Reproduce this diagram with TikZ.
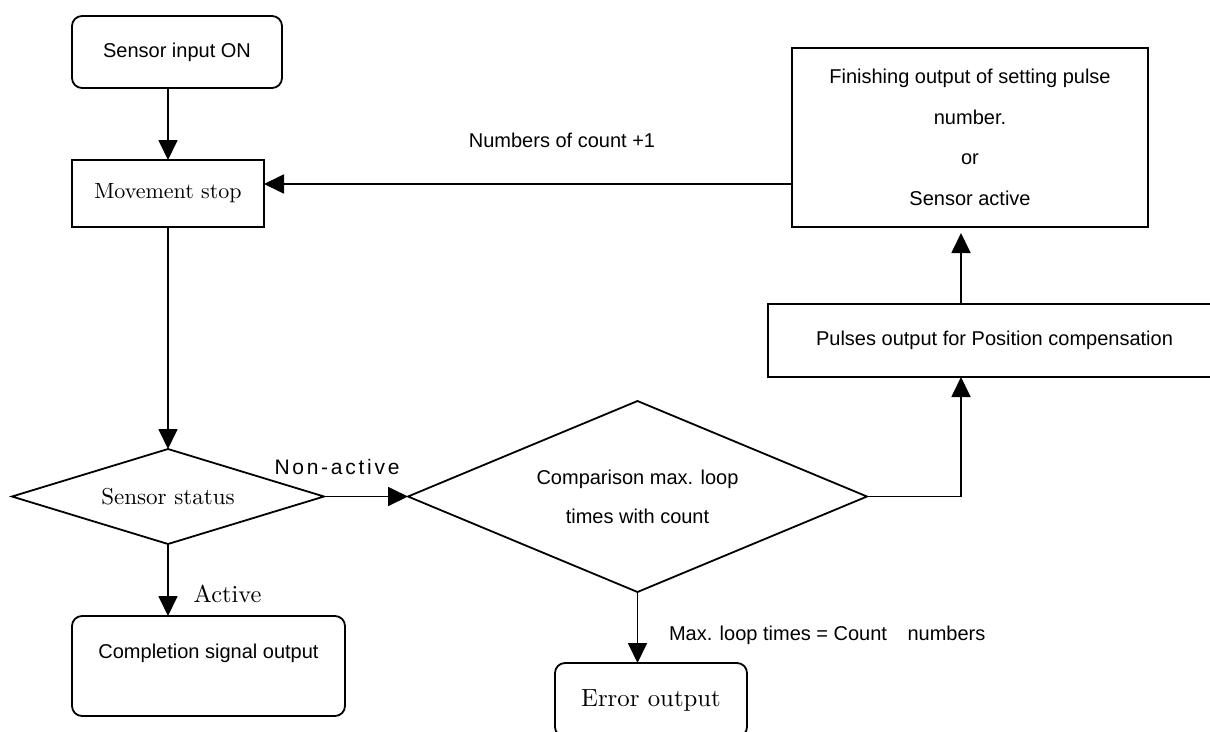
\documentclass[tikz,border=0pt]{standalone}
\usepackage{fontspec}
\newfontfamily\sansf{Liberation Sans}
\newfontfamily\serifx{lmroman10-regular}[Extension=.otf]
\usetikzlibrary{shapes.geometric,arrows.meta}

\begin{document}
\begin{tikzpicture}[x=1pt,y=-1pt,
  line width=1.8pt,
  arr/.style={-{Triangle[length=20pt,width=19pt]}},
  box/.style={draw, rectangle, inner sep=0pt, outer sep=0pt, align=center},
  rbox/.style={box, rounded corners=10pt},
  dia/.style={draw, diamond, inner sep=0pt, outer sep=0pt, align=center},
  sanstext/.style={font=\sansf\fontsize{20}{24}\selectfont},
  serif/.style={font=\serifx\fontsize{#1}{#1}\selectfont},
  lab/.style={inner sep=0pt, outer sep=0pt}
]
\useasboundingbox (0,0) rectangle (1210,731);

% boxes
\node[rbox, sanstext, minimum width=210pt, minimum height=72pt] (sin) at (177,52) {Sensor input ON};
\node[box, serif=22, minimum width=192pt, minimum height=67pt] (stop) at (168,193.5) {Movement stop};
\node[dia, serif=23, minimum width=312pt, minimum height=95pt, aspect=3.3] (status) at (168,496.5) {Sensor status};
\node[dia, font=\sansf\fontsize{20}{39}\selectfont, minimum width=459pt, minimum height=191pt, aspect=2.4] (cmp) at (637.5,496.5)
  {Comparison max. loop\\times with count};
\node[box, font=\sansf\fontsize{20}{40.5}\selectfont, minimum width=356pt, minimum height=179pt] (fin) at (970,137.5)
  {Finishing output of setting pulse\\number.\\or\\Sensor active};
\node[box, sanstext, minimum width=453pt, minimum height=73pt] (pulse) at (994.5,340.5)
  {Pulses output for Position compensation};
\node[rbox, font=\sansf\fontsize{20}{30}\selectfont, minimum width=273pt, minimum height=100pt] (comp) at (208.5,666)
  {Completion signal output\\\mbox{}};
\node[rbox, serif=24.8, minimum width=192pt, minimum height=74pt] (err) at (651,700) {Error output};

% connector labels
\node[lab, sanstext] (cntlab) at (562,140) {Numbers of count +1};
\node[lab, font=\sansf\fontsize{21}{24}\selectfont\addfontfeature{LetterSpace=13}] (nalab) at (337,467) {Non-active};
\node[lab, serif=24.4] (actlab) at (227.5,594) {Active};
\node[lab, sanstext, anchor=west] (maxlab) at (669,635) {Max. loop times = Count\hspace{15pt} numbers};

% helper points for bends
\coordinate (j) at (961,0);
\coordinate (ly) at (0,184);

% connectors
\draw[arr] (stop.north |- sin.south) -- (stop.north);
\draw[arr] (fin.west |- ly) -- (stop.east |- ly);
\draw[arr] (stop.south) -- (status.north);
\draw[arr] (status.east) -- (cmp.west);
\draw[arr] (status.south) -- (status.south |- comp.north);
\draw[arr] (cmp.south) -- (cmp.south |- err.north);
\draw[arr] (cmp.east) -| (j |- pulse.south);
\draw[arr] (j |- pulse.north) -- ([yshift=-6pt]j |- fin.south);
\end{tikzpicture}
\end{document}
